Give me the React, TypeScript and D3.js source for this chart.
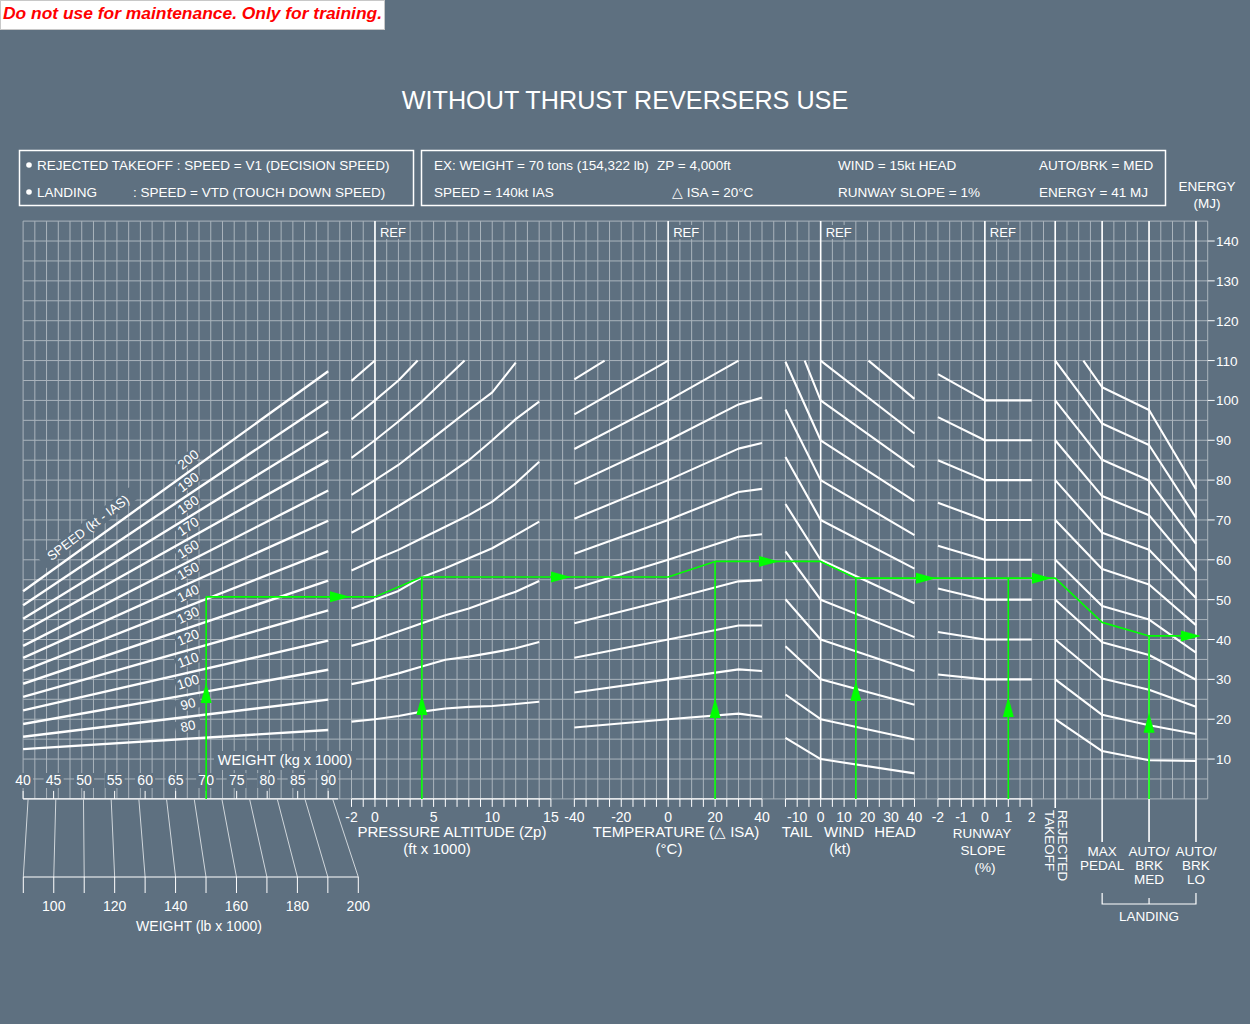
import React from "react";
import * as d3 from "d3";

const BG = "#5e7080";
const GRID = "#aab4bc";
const WHITE = "#ffffff";
const GREEN = "#00ff00";
const FONT = "'Liberation Sans', Arial, Helvetica, sans-serif";

// ---------- weight / speed panel ----------
const speedLabels = [80, 90, 100, 110, 120, 130, 140, 150, 160, 170, 180, 190, 200];
const weightEnds = [40, 90];
const energyAt40t = [12.5, 15.6, 18.8, 22.2, 25.6, 28.9, 32.1, 35.4, 38.4, 42.0, 45.2, 48.6, 52.1];
const energyAt90t = [17.3, 24.9, 32.4, 39.7, 47.3, 54.8, 62.2, 69.8, 77.4, 84.9, 92.2, 99.8, 107.3];
const kgTicks = [40, 45, 50, 55, 60, 65, 70, 75, 80, 85, 90];
const lbTicks = [90, 100, 110, 120, 130, 140, 150, 160, 170, 180, 190, 200];
const lbLabels = [100, 120, 140, 160, 180, 200];

// ---------- pressure altitude panel ----------
const altTicks = [-2, -1, 0, 1, 2, 3, 4, 5, 6, 7, 8, 9, 10, 11, 12, 13, 14, 15];
const altLabels = [-2, 0, 5, 10, 15];
const altCurves: [number, number][][] = [
  [[-2, 104.9], [0, 110]],
  [[-2, 95.2], [0, 100], [2, 105], [3.64, 110]],
  [[-2, 85.6], [0, 90], [2, 94.7], [4, 99.7], [7.64, 110]],
  [[-2, 76.3], [0, 80], [2, 83.8], [4, 88.4], [6, 93], [8, 97.6], [10, 102], [12, 109.5]],
  [[-2, 66.8], [0, 70], [2, 73.5], [4, 77.1], [6, 80.9], [8, 85], [10, 90], [12, 95.3], [14, 99.7]],
  [[-2, 57.3], [0, 60], [2, 62.5], [4, 65.4], [6, 68.3], [8, 71.2], [10, 74.6], [12, 79.2], [14, 84.6]],
  [[-2, 47.8], [0, 50], [2, 52.2], [4, 55.6], [6, 57.9], [8, 60.4], [10, 62.9], [12, 66.2], [14, 69.6]],
  [[-2, 38.4], [0, 40], [2, 42], [4, 44.1], [6, 46.1], [8, 47.8], [10, 49.9], [12, 52], [14, 54.7]],
  [[-2, 28.8], [0, 30], [2, 31.5], [4, 33.2], [6, 34.9], [8, 35.7], [10, 36.7], [12, 37.8], [14, 39.4]],
  [[-2, 19.4], [0, 20], [2, 20.8], [4, 21.9], [6, 22.7], [8, 23.1], [10, 23.3], [12, 23.8], [14, 24.4]],
];

// ---------- temperature panel ----------
const tempTicks = [-40, -35, -30, -25, -20, -15, -10, -5, 0, 5, 10, 15, 20, 25, 30, 35, 40];
const tempLabels = [-40, -20, 0, 20, 40];
const tempCurves: [number, number][][] = [
  [[-40, 105.3], [-27.1, 110]],
  [[-40, 96.5], [0, 110]],
  [[-40, 87.8], [0, 100], [30, 110]],
  [[-40, 79.0], [0, 90], [30, 99.0], [40, 100.7]],
  [[-40, 70.3], [0, 80], [30, 87.9], [40, 89.3]],
  [[-40, 61.5], [0, 70], [30, 77.0], [40, 77.8]],
  [[-40, 52.8], [0, 60], [30, 65.8], [40, 66.4]],
  [[-40, 44.1], [0, 50], [30, 54.6], [40, 54.9]],
  [[-40, 35.4], [0, 40], [30, 43.5], [40, 43.5]],
  [[-40, 26.7], [0, 30], [30, 32.5], [40, 32.1]],
  [[-40, 17.9], [0, 20], [30, 21.4], [40, 20.6]],
];

// ---------- wind panel ----------
const windTicks = [-15, -10, -5, 0, 5, 10, 15, 20, 25, 30, 35, 40];
const windLabels = [-10, 0, 10, 20, 30, 40];
const windCurves: [number, number][][] = [
  [[20.4, 110], [40, 100.4]],
  [[0, 110], [40, 91.7]],
  [[-6.8, 110], [0, 100], [40, 83.2]],
  [[-15, 109.7], [0, 90], [40, 74.7]],
  [[-15, 97.7], [0, 80], [40, 66.2]],
  [[-15, 85.8], [0, 70], [40, 57.8]],
  [[-15, 74.0], [0, 60], [40, 49.1]],
  [[-15, 62.1], [0, 50], [40, 40.6]],
  [[-15, 50.1], [0, 40], [40, 32.1]],
  [[-15, 38.3], [0, 30], [40, 23.6]],
  [[-15, 26.2], [0, 20], [40, 14.9]],
  [[-15, 15.3], [0, 10], [40, 6.4]],
];

// ---------- runway slope panel ----------
const slopeTicks = [-2, -1.5, -1, -0.5, 0, 0.5, 1, 1.5, 2];
const slopeLabels = [-2, -1, 0, 1, 2];
const slopeCurves: [number, number][][] = [
  [[-2, 106.6], [0, 100], [2, 100]],
  [[-2, 95.8], [0, 90], [2, 90]],
  [[-2, 85.0], [0, 80], [2, 80]],
  [[-2, 74.3], [0, 70], [2, 70]],
  [[-2, 63.5], [0, 60], [2, 60]],
  [[-2, 52.8], [0, 50], [2, 50]],
  [[-2, 41.9], [0, 40], [2, 40]],
  [[-2, 31.2], [0, 30], [2, 30]],
];

// ---------- rejected takeoff / landing panel (0=RTO,1=MAX PEDAL,2=AUTO MED,3=AUTO LO) ----------
const landingCurves: [number, number][][] = [
  [[0.6, 110], [1, 103.3], [2, 97.6], [3, 77.7]],
  [[0, 110], [1, 94.2], [2, 88.8], [3, 70.6]],
  [[0, 100], [1, 85.1], [2, 79.9], [3, 64.0]],
  [[0, 90], [1, 76.0], [2, 71.2], [3, 57.2]],
  [[0, 80], [1, 66.8], [2, 62.5], [3, 50.4]],
  [[0, 70], [1, 57.7], [2, 53.8], [3, 43.6]],
  [[0, 60], [1, 48.4], [2, 45.0], [3, 36.7]],
  [[0, 50], [1, 39.3], [2, 36.1], [3, 29.9]],
  [[0, 40], [1, 30.2], [2, 27.4], [3, 23.1]],
  [[0, 30], [1, 21.1], [2, 18.5], [3, 16.3]],
  [[0, 20], [1, 12.0], [2, 9.7], [3, 9.5]],
];

const energyTicks = [10, 20, 30, 40, 50, 60, 70, 80, 90, 100, 110, 120, 130, 140];

// ---------- worked example ----------
const exWeight = 70;
const exAlt = 4;
const exTemp = 20;
const exWind = 15;
const exSlope = 1;
const exEnergy = [50.7, 55.7, 59.6, 55.4, 44.3, 40.9];
const upArrowTipEnergy = [29.1, 26.1, 25.3, 29.6, 25.6, 21.6];
const rightArrowTipCell = [27.87, 46.71, 64.45, 77.83, 87.72, 100.42];

type P = [number, number];

export default function App() {
  const W = 1250;
  const H = 1024;
  const gx = d3.scaleLinear().domain([0, 101]).range([23.1, 1207.7]);
  const yE = d3.scaleLinear().domain([0, 145]).range([798.9, 221.1]);
  const xKg = d3.scaleLinear().domain([40, 90]).range([23.1, 328.2]);
  const xLb = d3.scaleLinear().domain([90, 200]).range([23.3, 358.3]);
  const xAlt = d3.scaleLinear().domain([-2, 15]).range([gx(28), gx(45)]);
  const xTemp = d3.scaleLinear().domain([-40, 40]).range([gx(47), gx(63)]);
  const xWind = d3.scaleLinear().domain([-15, 40]).range([gx(65), gx(76)]);
  const xSlope = d3.scaleLinear().domain([-2, 2]).range([gx(78), gx(86)]);
  const xLand = d3.scaleLinear().domain([0, 3]).range([gx(88), gx(100)]);

  const yBottom = yE(0);
  const yTop = yE(145);

  const curve = (xs: (v: number) => number, pts: P[]) =>
    d3.line<P>().x((d) => xs(d[0])).y((d) => yE(d[1]))(pts) || "";

  const gridV = d3.range(0, 102);
  const gridH = d3.range(0, 146, 5);

  // speed label geometry
  const speedGeo = speedLabels.map((s, i) => {
    const x1 = xKg(weightEnds[0]);
    const x2 = xKg(weightEnds[1]);
    const y1 = yE(energyAt40t[i]);
    const y2 = yE(energyAt90t[i]);
    const ang = (Math.atan2(y2 - y1, x2 - x1) * 180) / Math.PI;
    const lx = 188;
    const ly = y1 + ((lx - x1) / (x2 - x1)) * (y2 - y1);
    return { s, x1, x2, y1, y2, ang, lx, ly, rot: ang * 0.8 - 10 };
  });
  const top = speedGeo[speedGeo.length - 1];

  const axisTicks = (
    xs: (v: number) => number,
    ticks: number[],
    labels: number[],
    key: string
  ) => (
    <g key={key}>
      <line x1={xs(ticks[0])} x2={xs(ticks[ticks.length - 1])} y1={yBottom} y2={yBottom} stroke={WHITE} strokeWidth={1.2} />
      {ticks.map((t) => (
        <line key={t} x1={xs(t)} x2={xs(t)} y1={yBottom} y2={yBottom + 8} stroke={WHITE} strokeWidth={1} />
      ))}
      {labels.map((t) => (
        <text key={"l" + t} x={xs(t)} y={yBottom + 23} fill={WHITE} fontSize={14} textAnchor="middle">
          {t}
        </text>
      ))}
    </g>
  );

  const upArrow = (x: number, yTip: number, k: string) => (
    <path key={k} d={`M${x},${yTip} L${x - 5.5},${yTip + 20} L${x + 5.5},${yTip + 20} Z`} fill={GREEN} />
  );
  const rightArrow = (xTip: number, y: number, k: string) => (
    <path key={k} d={`M${xTip},${y} L${xTip - 20},${y - 5.5} L${xTip - 20},${y + 5.5} Z`} fill={GREEN} />
  );

  const [e1, e2, e3, e4, e5, e6] = exEnergy;
  const greenPath: P[] = [
    [xKg(exWeight), yBottom],
    [xKg(exWeight), yE(e1)],
    [xAlt(0), yE(e1)],
    [xAlt(exAlt), yE(e2)],
    [xTemp(0), yE(e2)],
    [xTemp(exTemp), yE(e3)],
    [xWind(0), yE(e3)],
    [xWind(exWind), yE(e4)],
    [xLand(0), yE(e4)],
    [xLand(1), yE(e5)],
    [xLand(2), yE(e6)],
    [gx(rightArrowTipCell[5]) - 2, yE(e6)],
  ];
  const greenVerticals: [number, number][] = [
    [xAlt(exAlt), e2],
    [xTemp(exTemp), e3],
    [xWind(exWind), e4],
    [xSlope(exSlope), e4],
    [xLand(2), e6],
  ];
  const upX = [xKg(exWeight), xAlt(exAlt), xTemp(exTemp), xWind(exWind), xSlope(exSlope), xLand(2)];
  const rightY = [e1, e2, e3, e4, e4, e6];

  const refXs = [xAlt(0), xTemp(0), xWind(0), xSlope(0)];

  return (
    <svg
      width={W}
      height={H}
      viewBox={`0 0 ${W} ${H}`}
      style={{ position: "absolute", left: 0, top: 0, display: "block" }}
      fontFamily={FONT}
    >
      <rect x={0} y={0} width={W} height={H} fill={BG} />

      {/* header warning */}
      <rect x={0.5} y={0.5} width={384} height={29} fill="#ffffff" stroke="#c8c8c8" />
      <text
        x={3}
        y={19}
        fill="#ff0000"
        fontSize={16}
        fontWeight="bold"
        fontStyle="italic"
        textLength={379}
        lengthAdjust="spacingAndGlyphs"
      >
        Do not use for maintenance. Only for training.
      </text>

      {/* title */}
      <text x={625} y={109} fill={WHITE} fontSize={25.2} textAnchor="middle">
        WITHOUT THRUST REVERSERS USE
      </text>

      {/* legend boxes */}
      <rect x={19.5} y={150.5} width={394} height={55} fill="none" stroke={WHITE} strokeWidth={1.5} />
      <circle cx={29} cy={165} r={2.8} fill={WHITE} />
      <text x={37} y={170} fill={WHITE} fontSize={13.5}>REJECTED TAKEOFF : SPEED = V1 (DECISION SPEED)</text>
      <circle cx={29} cy={192} r={2.8} fill={WHITE} />
      <text x={37} y={197} fill={WHITE} fontSize={13.5}>LANDING</text>
      <text x={133} y={197} fill={WHITE} fontSize={13.5}>: SPEED = VTD (TOUCH DOWN SPEED)</text>

      <rect x={421.5} y={150.5} width={744} height={55} fill="none" stroke={WHITE} strokeWidth={1.5} />
      <g fill={WHITE} fontSize={13.5}>
        <text x={434} y={170}>EX: WEIGHT = 70 tons (154,322 lb)</text>
        <text x={657} y={170}>ZP = 4,000ft</text>
        <text x={838} y={170}>WIND = 15kt HEAD</text>
        <text x={1039} y={170}>AUTO/BRK = MED</text>
        <text x={434} y={197}>SPEED = 140kt IAS</text>
        <text x={672} y={197}>△ ISA = 20°C</text>
        <text x={838} y={197}>RUNWAY SLOPE = 1%</text>
        <text x={1039} y={197}>ENERGY = 41 MJ</text>
      </g>

      {/* energy axis title */}
      <text x={1207} y={191} fill={WHITE} fontSize={13.5} textAnchor="middle">ENERGY</text>
      <text x={1207} y={208} fill={WHITE} fontSize={13.5} textAnchor="middle">(MJ)</text>

      {/* grid */}
      <g stroke={GRID} strokeWidth={1}>
        {gridV.map((i) => (
          <line key={"gv" + i} x1={gx(i)} x2={gx(i)} y1={yTop} y2={yBottom} />
        ))}
        {gridH.map((e) => (
          <line key={"gh" + e} x1={gx(0)} x2={gx(101)} y1={yE(e)} y2={yE(e)} />
        ))}
      </g>

      {/* masks behind labels in weight panel */}
      <g fill={BG}>
        {speedGeo.map((g) => (
          <rect
            key={"sm" + g.s}
            x={-13}
            y={-6.5}
            width={26}
            height={13}
            transform={`translate(${g.lx},${g.ly - 13}) rotate(${g.rot})`}
          />
        ))}
        <rect
          x={-58}
          y={-7}
          width={116}
          height={14}
          transform={`translate(88,527.5) rotate(${top.ang - 1.5})`}
        />
        <rect x={214} y={751} width={142} height={19} />
        {kgTicks.map((k) => (
          <rect key={"km" + k} x={xKg(k) - 10} y={773} width={20} height={15} />
        ))}
        {refXs.map((x, i) => (
          <rect key={"rm" + i} x={x + 3} y={225} width={28} height={14} />
        ))}
      </g>

      {/* REF vertical lines */}
      {refXs.map((x, i) => (
        <g key={"ref" + i}>
          <line x1={x} x2={x} y1={yTop} y2={yBottom} stroke={WHITE} strokeWidth={1.6} />
          <text x={x + 5} y={237} fill={WHITE} fontSize={13}>REF</text>
        </g>
      ))}

      {/* RTO and landing vertical lines */}
      <line x1={xLand(0)} x2={xLand(0)} y1={yTop} y2={808} stroke={WHITE} strokeWidth={1.6} />
      {[1, 2, 3].map((c) => (
        <line key={"lv" + c} x1={xLand(c)} x2={xLand(c)} y1={yTop} y2={842} stroke={WHITE} strokeWidth={1.6} />
      ))}

      {/* speed lines */}
      <g stroke={WHITE} strokeWidth={2.4} fill="none">
        {speedGeo.map((g) => (
          <line key={"sl" + g.s} x1={g.x1} y1={g.y1} x2={g.x2} y2={g.y2} />
        ))}
      </g>
      {speedGeo.map((g) => (
        <text
          key={"st" + g.s}
          transform={`translate(${g.lx},${g.ly - 13}) rotate(${g.rot})`}
          textAnchor="middle"
          dy="0.36em"
          fill={WHITE}
          fontSize={13.5}
        >
          {g.s}
        </text>
      ))}
      <text
        transform={`translate(88,527.5) rotate(${top.ang - 1.5})`}
        textAnchor="middle"
        dy="0.36em"
        fill={WHITE}
        fontSize={13}
      >
        SPEED (kt - IAS)
      </text>

      {/* panel curves */}
      <g stroke={WHITE} strokeWidth={2.1} fill="none" strokeLinejoin="round">
        {altCurves.map((c, i) => (
          <path key={"a" + i} d={curve(xAlt, c)} />
        ))}
        {tempCurves.map((c, i) => (
          <path key={"t" + i} d={curve(xTemp, c)} />
        ))}
        {windCurves.map((c, i) => (
          <path key={"w" + i} d={curve(xWind, c)} />
        ))}
        {slopeCurves.map((c, i) => (
          <path key={"s" + i} d={curve(xSlope, c)} />
        ))}
        {landingCurves.map((c, i) => (
          <path key={"l" + i} d={curve(xLand, c)} />
        ))}
      </g>

      {/* weight kg axis */}
      <line x1={xKg(40)} x2={338} y1={yBottom} y2={yBottom} stroke={WHITE} strokeWidth={1.2} />
      {kgTicks.map((k) => (
        <g key={"kg" + k}>
          <line x1={xKg(k)} x2={xKg(k)} y1={yBottom - 8} y2={yBottom} stroke={WHITE} strokeWidth={1} />
          <text x={xKg(k)} y={785} fill={WHITE} fontSize={14} textAnchor="middle">{k}</text>
        </g>
      ))}
      <text x={285} y={765} fill={WHITE} fontSize={14.5} textAnchor="middle">WEIGHT (kg x 1000)</text>

      {/* kg -> lb conversion lines */}
      <g stroke="#d0d6db" strokeWidth={1}>
        {lbTicks.map((lb) => (
          <line key={"cv" + lb} x1={xKg(lb * 0.45359237)} y1={yBottom} x2={xLb(lb)} y2={877} />
        ))}
      </g>
      <line x1={xLb(90)} x2={xLb(200)} y1={877} y2={877} stroke={WHITE} strokeWidth={1.2} />
      {lbTicks.map((lb) => (
        <line key={"lt" + lb} x1={xLb(lb)} x2={xLb(lb)} y1={877} y2={893} stroke={WHITE} strokeWidth={1} />
      ))}
      {lbLabels.map((lb) => (
        <text key={"ll" + lb} x={xLb(lb)} y={911} fill={WHITE} fontSize={14} textAnchor="middle">{lb}</text>
      ))}
      <text x={199} y={931} fill={WHITE} fontSize={14} textAnchor="middle">WEIGHT (lb x 1000)</text>

      {/* bottom axes */}
      {axisTicks(xAlt, altTicks, altLabels, "alt")}
      {axisTicks(xTemp, tempTicks, tempLabels, "temp")}
      {axisTicks(xWind, windTicks, windLabels, "wind")}
      {axisTicks(xSlope, slopeTicks, slopeLabels, "slope")}

      <g fill={WHITE} fontSize={15} textAnchor="middle">
        <text x={452} y={837}>PRESSURE ALTITUDE (Zp)</text>
        <text x={437} y={854}>(ft x 1000)</text>
        <text x={676} y={837}>TEMPERATURE (△ ISA)</text>
        <text x={669} y={854}>(°C)</text>
        <text x={797} y={837}>TAIL</text>
        <text x={844} y={837}>WIND</text>
        <text x={895} y={837}>HEAD</text>
        <text x={840} y={854}>(kt)</text>
      </g>
      <g fill={WHITE} fontSize={13.5} textAnchor="middle">
        <text x={982} y={838}>RUNWAY</text>
        <text x={983} y={855}>SLOPE</text>
        <text x={985} y={872}>(%)</text>
      </g>

      {/* RTO / landing labels */}
      <g fill={WHITE} fontSize={13.5}>
        <text transform="translate(1058,810) rotate(90)">REJECTED</text>
        <text transform="translate(1045,810) rotate(90)">TAKEOFF</text>
      </g>
      <g fill={WHITE} fontSize={13.5} textAnchor="middle">
        <text x={xLand(1)} y={856}>MAX</text>
        <text x={xLand(1)} y={870}>PEDAL</text>
        <text x={xLand(2)} y={856}>AUTO/</text>
        <text x={xLand(2)} y={870}>BRK</text>
        <text x={xLand(2)} y={884}>MED</text>
        <text x={xLand(3)} y={856}>AUTO/</text>
        <text x={xLand(3)} y={870}>BRK</text>
        <text x={xLand(3)} y={884}>LO</text>
        <text x={xLand(2)} y={921}>LANDING</text>
      </g>
      <path
        d={`M${xLand(1)},893 V904 H${xLand(3)} V893 M${xLand(2)},904 V898`}
        fill="none"
        stroke={WHITE}
        strokeWidth={1.2}
      />

      {/* right energy axis */}
      {energyTicks.map((e) => (
        <g key={"et" + e}>
          <line x1={gx(101)} x2={gx(101) + 7} y1={yE(e)} y2={yE(e)} stroke={WHITE} strokeWidth={1} />
          <text x={1216} y={yE(e) + 5} fill={WHITE} fontSize={13.5}>{e}</text>
        </g>
      ))}

      {/* worked example (green) */}
      <path
        d={d3.line<P>()(greenPath) || ""}
        fill="none"
        stroke={GREEN}
        strokeWidth={1.6}
        strokeLinejoin="round"
      />
      {greenVerticals.map(([x, e], i) => (
        <line key={"gvl" + i} x1={x} x2={x} y1={yBottom} y2={yE(e)} stroke={GREEN} strokeWidth={1.6} />
      ))}
      {upX.map((x, i) => upArrow(x, yE(upArrowTipEnergy[i]), "ua" + i))}
      {rightArrowTipCell.map((c, i) => rightArrow(gx(c), yE(rightY[i]), "ra" + i))}
    </svg>
  );
}
